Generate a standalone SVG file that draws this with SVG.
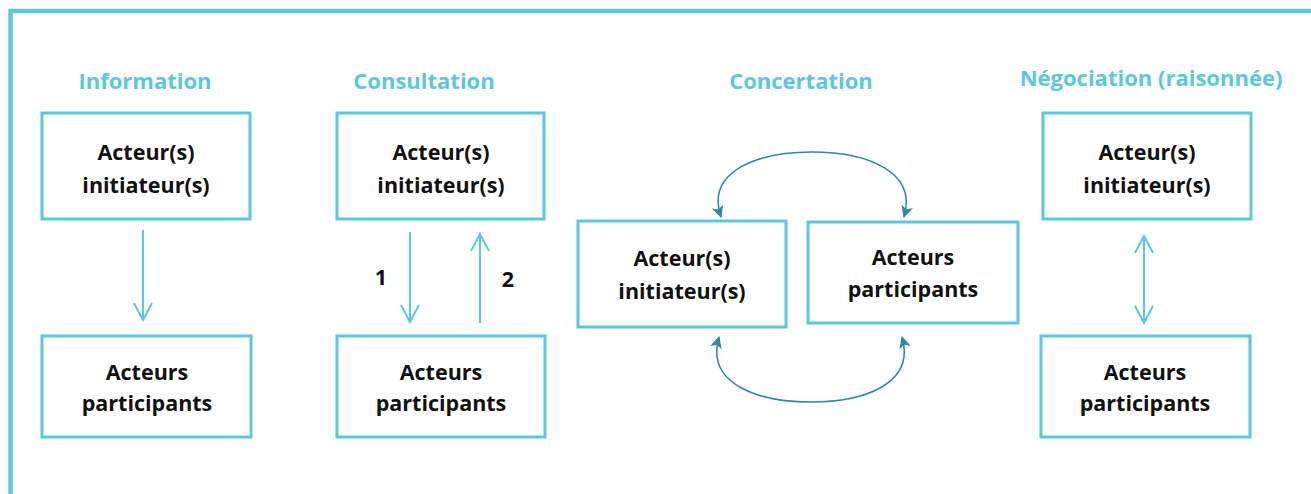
<svg xmlns="http://www.w3.org/2000/svg" width="1311" height="494" viewBox="0 0 1311 494">
<style>
.box{fill:#fff;stroke:#5BC8E0;stroke-width:3}
.t{font-family:"Open Sans","Liberation Sans",sans-serif;font-weight:bold;font-size:21.5px;fill:#111;text-anchor:middle}
.h{font-family:"Open Sans","Liberation Sans",sans-serif;font-weight:bold;font-size:22px;fill:#5BC8E0;text-anchor:middle}
.a{fill:none;stroke:#5BC8E0;stroke-width:2}
.c{fill:none;stroke:#2F88A2;stroke-width:1.5}
</style>
<defs>
<marker id="open" viewBox="0 0 20 20" refX="18" refY="10" markerWidth="20" markerHeight="20" markerUnits="userSpaceOnUse" orient="auto-start-reverse">
<path d="M1,1 L18,10 L1,19" fill="none" stroke="#5BC8E0" stroke-width="2"/>
</marker>
<marker id="tri" viewBox="0 0 12 12" refX="11" refY="6" markerWidth="12" markerHeight="12" markerUnits="userSpaceOnUse" orient="auto-start-reverse">
<path d="M0,0 L12,6 L0,12 L3,6 Z" fill="#2F88A2"/>
</marker>
</defs>
<path d="M10.5,494 V11 H1311" fill="none" stroke="#5BC8E0" stroke-width="4.5"/>
<g id="titles">
<text class="h" x="145" y="89">Information</text>
<text class="h" x="424" y="89">Consultation</text>
<text class="h" x="801" y="89">Concertation</text>
<text class="h" x="1151" y="86">Négociation (raisonnée)</text>
</g>
<g id="info-init"><rect class="box" x="42" y="113" width="208" height="106"/><text class="t" x="146" y="160">Acteur(s)</text><text class="t" x="146" y="193">initiateur(s)</text></g>
<g id="info-part"><rect class="box" x="42" y="336" width="209" height="101"/><text class="t" x="147" y="380">Acteurs</text><text class="t" x="147" y="411">participants</text></g>
<g id="cons-init"><rect class="box" x="337" y="113" width="207" height="106"/><text class="t" x="441" y="160">Acteur(s)</text><text class="t" x="441" y="193">initiateur(s)</text></g>
<g id="cons-part"><rect class="box" x="337" y="336" width="208" height="101"/><text class="t" x="441" y="380">Acteurs</text><text class="t" x="441" y="411">participants</text></g>
<g id="conc-init"><rect class="box" x="578" y="221" width="208" height="106"/><text class="t" x="682" y="266">Acteur(s)</text><text class="t" x="682" y="299">initiateur(s)</text></g>
<g id="conc-part"><rect class="box" x="808" y="222" width="210" height="101"/><text class="t" x="913" y="265">Acteurs</text><text class="t" x="913" y="297">participants</text></g>
<g id="nego-init"><rect class="box" x="1043" y="113" width="208" height="106"/><text class="t" x="1147" y="160">Acteur(s)</text><text class="t" x="1147" y="193">initiateur(s)</text></g>
<g id="nego-part"><rect class="box" x="1041" y="336" width="209" height="101"/><text class="t" x="1145" y="380">Acteurs</text><text class="t" x="1145" y="411">participants</text></g>
<g id="connectors">
<line class="a" x1="143" y1="230" x2="143" y2="320" marker-end="url(#open)"/>
<line class="a" x1="410" y1="232" x2="410" y2="322" marker-end="url(#open)"/>
<line class="a" x1="480" y1="323" x2="480" y2="234" marker-end="url(#open)"/>
<line class="a" x1="1144" y1="236" x2="1144" y2="323" marker-start="url(#open)" marker-end="url(#open)"/>
<path class="c" d="M721,217 C705,170 760,152 812,152 C864,152 918,170 904,217" marker-start="url(#tri)" marker-end="url(#tri)"/>
<path class="c" d="M719,337 C705,385 760,402 811,402 C862,402 916,385 902,337" marker-start="url(#tri)" marker-end="url(#tri)"/>
<text class="t" x="381" y="285">1</text>
<text class="t" x="508" y="287">2</text>
</g>
</svg>
